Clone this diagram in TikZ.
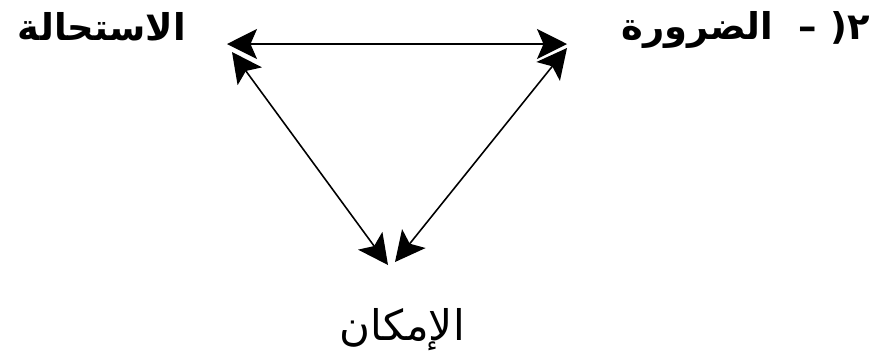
\documentclass[tikz,border=0pt]{standalone}
\usepackage{fontspec}
\usepackage{tikz}
\usetikzlibrary{arrows.meta}
\TeXXeTstate=1
\newfontfamily\arabicfont[Script=Arabic]{DejaVu Sans}

\begin{document}
\begin{tikzpicture}[x=0.02cm,y=-0.02cm,
  arr/.style={{Stealth[length=0.6cm,width=0.6cm,inset=0.13cm]}-{Stealth[length=0.6cm,width=0.6cm,inset=0.13cm]},line width=0.9pt},
  lbl/.style={font=\fontsize{21}{25}\selectfont\arabicfont\bfseries,inner sep=0pt}]
  \useasboundingbox (0,0) rectangle (872,360);
  \node[lbl] (imp) at (102,27) {\beginR الاستحالة\endR};
  \node[lbl,anchor=east] (nec) at (870,30) {\beginR ٢( – \ الضرورة\endR};
  \node[lbl,font=\fontsize{24}{28}\selectfont\arabicfont] (pos) at (402,330) {\beginR الإمكان\endR};
  % corners of the triangle
  \coordinate (a1) at (227,44);
  \coordinate (a2) at (232,52);
  \coordinate (b1) at (567,44);
  \coordinate (b2) at (567,48);
  \coordinate (c1) at (388,265);
  \coordinate (c2) at (395,262);
  \draw[arr] (a1) -- (b1);
  \draw[arr] (a2) -- (c1);
  \draw[arr] (b2) -- (c2);
\end{tikzpicture}
\end{document}
